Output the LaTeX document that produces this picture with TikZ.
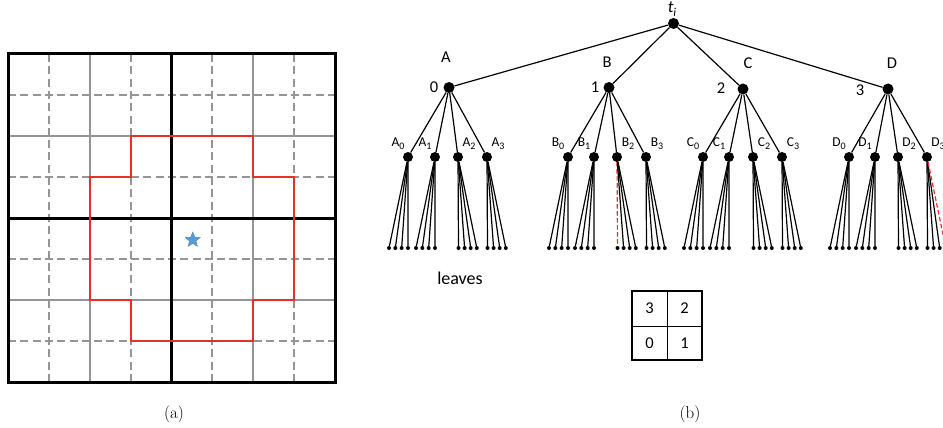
\documentclass[tikz,border=0pt]{standalone}
\usepackage{fontspec}
\newfontfamily\labfont{Carlito}
\usetikzlibrary{shapes.geometric}
\definecolor{gridgray}{HTML}{959595}
\definecolor{outred}{HTML}{E8302A}
\definecolor{starblue}{HTML}{5B9BD5}
\newcommand\sbs[2]{#1\raisebox{-0.45ex}{\fontsize{10}{10}\selectfont #2}}
\begin{document}
\begin{tikzpicture}[x=1pt,y=-1pt,
  dotnode/.style={circle,fill=black,inner sep=0pt,minimum size=11pt},
  middot/.style={circle,fill=black,inner sep=0pt,minimum size=10pt},
  leafnode/.style={circle,fill=black,inner sep=0pt,minimum size=4pt},
  treeedge/.style={draw=black,line width=1.2pt},
  rededge/.style={draw=outred,line width=1.2pt,dash pattern=on 4.5pt off 2.5pt},
  gdash/.style={draw=gridgray,line width=1.8pt,dash pattern=on 8pt off 4.3pt},
  gsolid/.style={draw=gridgray,line width=1.8pt},
  gthick/.style={draw=black,line width=3pt},
  bigl/.style={font=\labfont\fontsize{16.5}{16.5}\selectfont,inner sep=0pt},
  smalll/.style={font=\labfont\fontsize{13.5}{13.5}\selectfont,inner sep=0pt},
  capt/.style={font=\fontsize{17}{17}\selectfont,inner sep=0pt}]
\useasboundingbox (0,0) rectangle (943,428);
\clip (0,0) rectangle (943,428);
% ---------- (a) grid ----------
\begin{scope}[shift={(8,54)},x=40.875pt,y=-41.05pt]
  \foreach \i in {1,3,5,7} {
    \draw[gdash] (\i,0) -- (\i,8);
    \draw[gdash] (0,\i) -- (8,\i);
  }
  \foreach \i in {2,6} {
    \draw[gsolid] (\i,0) -- (\i,8);
    \draw[gsolid] (0,\i) -- (8,\i);
  }
  \draw[gthick] (4,0) -- (4,8);
  \draw[gthick] (0,4) -- (8,4);
  \draw[gthick] (0,0) rectangle (8,8);
  \draw[outred,line width=1.8pt,line join=miter]
    (3,2) -- (6,2) -- (6,3) -- (7,3) -- (7,6) -- (6,6) -- (6,7) -- (3,7)
    -- (3,6) -- (2,6) -- (2,3) -- (3,3) -- cycle;
  \node[star,star points=5,star point ratio=2.3,fill=starblue,draw=starblue!80!black,
        line width=0.3pt,inner sep=0pt,minimum size=16pt] (star) at (4.52,4.53) {};
\end{scope}
\node[capt] (capa) at (174,414) {(a)};
% ---------- (b) tree ----------
\node[dotnode] (r) at (673.5,23.5) {};
\node[font=\labfont\itshape\fontsize{17}{17}\selectfont,inner sep=0pt] (rl) at (672,9) {t\raisebox{-0.4ex}{\fontsize{12}{12}\selectfont i}};
\foreach \k/\x/\y in {0/449/87.5, 1/609/87.5, 2/743/89, 3/888/89} {
  \node[dotnode] (n\k) at (\x,\y) {};
  \draw[treeedge] (r) -- (n\k);
}
\node[bigl] (lA) at (446,57) {A};
\node[bigl] (lB) at (607,62) {B};
\node[bigl] (lC) at (748,63) {C};
\node[bigl] (lD) at (892,63) {D};
\node[bigl] (l0) at (434,87) {0};
\node[bigl] (l1) at (595,87) {1};
\node[bigl] (l2) at (721,88) {2};
\node[bigl] (l3) at (860,90) {3};
\foreach \k/\L/\xa/\xb/\xc/\xd in {0/A/408/435/458/487, 1/B/568/594/617/646, 2/C/703/729/753/782, 3/D/849/875/898/927} {
  \foreach \j/\x in {0/\xa,1/\xb,2/\xc,3/\xd} {
    \node[middot] (m\k\j) at (\x,157) {};
    \draw[treeedge] (n\k) -- (m\k\j);
    \ifnum\j<2
      \node[smalll] (s\k\j) at (\x-10,144) {\sbs{\L}{\j}};
    \else
      \node[smalll] (s\k\j) at (\x+11,144) {\sbs{\L}{\j}};
    \fi
    \foreach \l in {0,...,3} {
      \ifnum\j<2
        \pgfmathsetmacro\lx{\x-19+6.33*\l}
      \else
        \pgfmathsetmacro\lx{\x+0.5+6.1*\l}
      \fi
      \node[leafnode] (f\k\j\l) at (\lx,248) {};
      \ifnum\k\j\l=120
        \draw[rededge] (m\k\j) -- (f\k\j\l);
      \else
        \ifnum\k\j\l=333
          \draw[rededge] (m\k\j) -- (f\k\j\l);
        \else
          \draw[treeedge] (m\k\j) -- (f\k\j\l);
        \fi
      \fi
    }
  }
}
\node[font=\labfont\fontsize{18}{18}\selectfont,inner sep=0pt] (leaves) at (460,278) {leaves};
% ---------- quadrant box ----------
\draw[line width=0.9pt] (667,291) -- (667,360);
\draw[line width=0.9pt] (632,326) -- (702,326);
\draw[line width=1.8pt] (632,291) rectangle (702,360);
\node[bigl] (q3) at (649.5,308.5) {3};
\node[bigl] (q2) at (684.5,308.5) {2};
\node[bigl] (q0) at (649.5,343) {0};
\node[bigl] (q1) at (684.5,343) {1};
\node[capt] (capb) at (690,414) {(b)};
\end{tikzpicture}
\end{document}
